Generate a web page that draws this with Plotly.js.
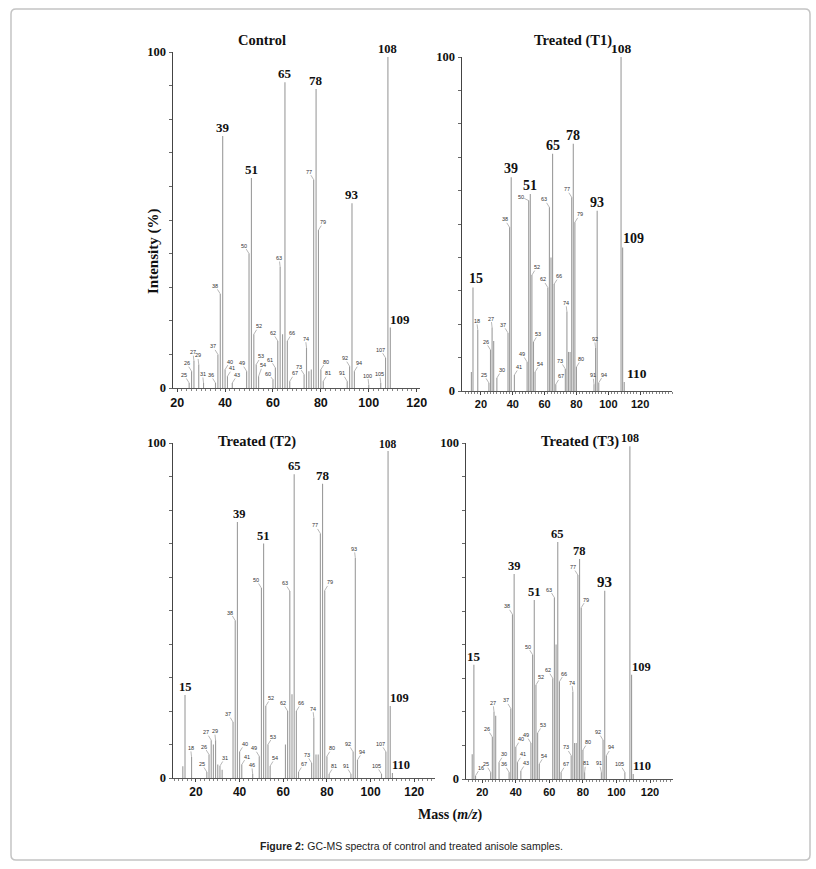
<!DOCTYPE html>
<html>
<head>
<meta charset="utf-8">
<script src="https://cdn.plot.ly/plotly-3.0.1.min.js"></script>
<style>html,body{margin:0;padding:0;background:#fff;}#chart{width:816px;height:869px;}</style>
</head>
<body>
<div id="chart"></div>
<script>
// ---------- DATA (m/z, relative intensity %) ----------
const ctrlMz  = [25,26,27,29,31,36,37,38,39,40,41,43,49,50,51,52,53,54,60,61,62,63,64,65,66,67,73,74,75,76,77,78,79,80,81,91,92,93,94,100,105,107,108,109];
const ctrlInt = [1.5,5,8,7,1.5,1.5,10,28,75,5.5,3.5,1.5,5,40,62.5,16,7,3.5,2.5,6,14,36,16,91,14,2,4,12,5,5.5,62,89,47,5.5,2,2,6.5,55,5,1,1.5,9,98.5,18];
const ctrlBig   = [39,51,65,78,93,108,109];
const ctrlSmall = [25,26,27,29,31,36,37,38,40,41,43,49,50,52,53,54,60,61,62,63,66,67,73,74,77,79,80,81,91,92,94,100,105,107];

const t1Mz  = [14,15,18,25,26,27,28,30,37,38,39,41,49,50,51,52,53,54,62,63,64,65,66,67,73,74,75,76,77,78,79,80,91,92,93,94,108,109,110];
const t1Int = [5.7,31,18.3,2.4,12.3,19,15,3.9,17.4,49,64,4.8,8.7,57,59,34.7,14.7,5.7,31,55,40,71,32,2,6.6,23.7,11.7,11.7,58,74,50.5,7.2,2,12.9,54,2.5,100,43,2.7];
const t1Big   = [15,39,51,65,78,93,108,109,110];
const t1Small = [18,25,26,27,30,37,38,41,49,50,52,53,54,62,63,66,67,73,74,77,79,80,91,92,94];

const t2Mz  = [14,15,18,25,26,27,28,29,30,31,32,37,38,39,40,41,46,49,50,51,52,53,54,61,62,63,64,65,66,67,73,74,75,76,77,78,79,80,81,91,92,93,94,105,107,108,109,110];
const t2Int = [3.5,24.8,6.3,1.8,7,11.3,10,11.3,4,3.6,2.5,16.7,47,76.4,7.8,4,1.2,6.5,56.7,70,21.5,10,3.6,10,20,55.8,25,90.7,20,1.8,4.5,18,7,7,73,87.8,56,6.5,1.2,1.2,7.8,65.7,5.4,1.2,7.8,97.6,21.5,1.5];
const t2Big   = [15,39,51,65,78,108,109,110];
const t2Small = [18,25,26,27,29,31,37,38,40,41,46,49,50,52,53,54,62,63,66,67,73,74,77,79,80,81,91,92,93,94,105,107];

const t3Mz  = [14,15,16,25,26,27,28,30,36,37,38,39,40,41,43,49,50,51,52,53,54,62,63,64,65,66,67,73,74,75,76,77,78,79,80,81,91,92,93,94,105,108,109,110];
const t3Int = [7.4,34,1,2,12.5,20,18.8,5,2,21,49,61,9.5,5,2.4,10.7,37,53.3,28,13.7,4.5,30,54,40,70.5,29,2,7,26,10.7,10.7,60.7,65.5,51,8.6,2,2,11.6,56,7,2,99,31,1.5];
const t3Big   = [15,39,51,65,78,93,108,109,110];
const t3Small = [16,25,26,27,30,36,37,38,40,41,43,49,50,52,53,54,62,63,66,67,73,74,77,79,80,81,91,92,94,105];

const panelTitles = ["Control", "Treated (T1)", "Treated (T2)", "Treated (T3)"];
const xTickVals = [20,40,60,80,100,120];
const yTickVals = [0,10,20,30,40,50,60,70,80,90,100];
const yTickText = ["0","","","","","","","","","","100"];

// ---------- STYLE / LAYOUT ----------
const W = 816, H = 869;
const px = v => v / W;
const py = v => 1 - v / H;
const SERIF = "Liberation Serif, Times New Roman, serif";
const SANS  = "Liberation Sans, Arial, sans-serif";

const panels = [
  {mz: ctrlMz, it: ctrlInt, big: ctrlBig, small: ctrlSmall, x0: 173, x1: 420, yb: 388, yt: 52, range: [18.25, 121.4],
   tickSize: 12.5, bigSize: 13, bigSizes: {108: 12.5}, bigLeft: [109], bigShift: {},
   right: [40,41,43,52,53,54,66,67,79,80,81,94], center: [27,29,31,63,74,100,105],
   custom: {54: [4, -11], 60: [-5, -6]},
   title: [262, 40]},
  {mz: t1Mz, it: t1Int, big: t1Big, small: t1Small, x0: 462, x1: 672, yb: 391, yt: 57, range: [8.1, 140.0],
   tickSize: 11, bigSize: 14, bigSizes: {108: 13.5, 110: 13.5}, bigLeft: [109,110], bigShift: {15: 3, 110: 3},
   right: [30,41,52,53,54,66,67,79,80,94], center: [18,27,74,91,92],
   custom: {50: [-8, -4]},
   title: [573, 40]},
  {mz: t2Mz, it: t2Int, big: t2Big, small: t2Small, x0: 173, x1: 435, yb: 778, yt: 443, range: [9.5, 129.5],
   tickSize: 12, bigSize: 12.5, bigSizes: {108: 11.5, 78: 13}, bigLeft: [109,110], bigShift: {39: 2},
   right: [31,40,41,52,53,54,66,67,79,80,81,94], center: [18,29,46,74,93],
   custom: {},
   title: [257, 441]},
  {mz: t3Mz, it: t3Int, big: t3Big, small: t3Small, x0: 466, x1: 673, yb: 779, yt: 443, range: [10.3, 133.7],
   tickSize: 11, bigSize: 12.5, bigSizes: {93: 15, 15: 13, 108: 12}, bigLeft: [109,110], bigShift: {},
   right: [16,30,40,41,43,52,53,54,66,67,79,80,94], center: [27,74],
   custom: {81: [1, -9], 91: [-2, -9]},
   title: [580, 441]}
];

const data = [];
const annotations = [];
const layout = {
  width: W, height: H,
  margin: {l: 0, r: 0, t: 0, b: 0},
  paper_bgcolor: "#fff", plot_bgcolor: "rgba(0,0,0,0)",
  showlegend: false,
  annotations: annotations,
  shapes: []
};

panels.forEach((p, i) => {
  const sfx = i === 0 ? "" : String(i + 1);
  const xName = "xaxis" + sfx, yName = "yaxis" + sfx;
  const xr = "x" + sfx, yr = "y" + sfx;
  const pxPerUnit = (p.x1 - p.x0) / (p.range[1] - p.range[0]);

  data.push({
    type: "bar", x: p.mz, y: p.it, xaxis: xr, yaxis: yr,
    width: 1.1 / pxPerUnit,
    marker: {color: "#9c9c9c", line: {width: 0}},
    hoverinfo: "skip"
  });

  layout[xName] = {
    domain: [px(p.x0), px(p.x1)], range: p.range, anchor: yr,
    showline: true, linecolor: "#555", linewidth: 1,
    ticks: "outside", ticklen: 3, tickcolor: "#444", tickwidth: 1,
    tickmode: "array", tickvals: xTickVals, ticktext: xTickVals.map(String),
    tickfont: {family: SANS, size: p.tickSize, color: "#111", weight: "bold"},
    minor: {tickmode: "linear", tick0: 0, dtick: 2, ticks: "outside", ticklen: 2, tickcolor: "#666", tickwidth: 0.8},
    showgrid: false, zeroline: false, fixedrange: true
  };
  layout[yName] = {
    domain: [py(p.yb), py(p.yt)], range: [0, 100], anchor: xr,
    showline: true, linecolor: "#444", linewidth: 1.5,
    ticks: "outside", ticklen: 3, tickcolor: "#666", tickwidth: 1,
    tickmode: "array", tickvals: yTickVals, ticktext: yTickText,
    tickfont: {family: SERIF, size: 12.5, color: "#111", weight: "bold"},
    showgrid: false, zeroline: false, fixedrange: true
  };

  // big peak labels
  p.big.forEach(m => {
    const k = p.mz.indexOf(m);
    const left = p.bigLeft.includes(m);
    annotations.push({
      xref: xr, yref: yr, x: m, y: p.it[k], text: String(m), showarrow: false,
      xanchor: left ? "left" : "center", yanchor: "bottom",
      xshift: (p.bigShift[m] || 0) + (left ? -2 : 0), yshift: -1,
      font: {family: SERIF, size: p.bigSizes[m] || p.bigSize, color: "#111", weight: "bold"}
    });
  });
  // small peak labels with leader lines
  p.small.forEach(m => {
    const k = p.mz.indexOf(m);
    let ax = -5, ay = -8;
    if (p.right.includes(m)) { ax = 5; ay = -8; }
    if (p.center.includes(m)) { ax = -1; ay = -9; }
    if (p.custom[m]) { ax = p.custom[m][0]; ay = p.custom[m][1]; }
    annotations.push({
      xref: xr, yref: yr, x: m, y: p.it[k], text: String(m),
      showarrow: true, arrowhead: 0, arrowwidth: 0.6, arrowcolor: "#888", standoff: 0,
      ax: ax, ay: ay, borderpad: 0,
      font: {family: SANS, size: 5.5, color: "#333"}
    });
  });
  // panel title
  annotations.push({
    xref: "paper", yref: "paper", x: px(p.title[0]), y: py(p.title[1]),
    text: panelTitles[i], showarrow: false, xanchor: "center", yanchor: "middle",
    font: {family: SERIF, size: 14.5, color: "#111", weight: "bold"}
  });
});

// axis titles & caption
annotations.push({
  xref: "paper", yref: "paper", x: px(153), y: py(252), textangle: -90,
  text: "Intensity (%)", showarrow: false, xanchor: "center", yanchor: "middle",
  font: {family: SERIF, size: 15, color: "#111", weight: "bold"}
});
annotations.push({
  xref: "paper", yref: "paper", x: px(450), y: py(815),
  text: "Mass (<i>m/z</i>)", showarrow: false, xanchor: "center", yanchor: "middle",
  font: {family: SERIF, size: 14, color: "#111", weight: "bold"}
});
annotations.push({
  xref: "paper", yref: "paper", x: px(411), y: py(846),
  text: "<b>Figure 2:</b> GC-MS spectra of control and treated anisole samples.", showarrow: false,
  xanchor: "center", yanchor: "middle",
  font: {family: SANS, size: 10.5, color: "#222"}
});

// rounded outer frame
(function () {
  const L = 11, T = 9, R = 810, B = 860, r = 5;
  const path = [
    "M", px(L + r), py(T), "L", px(R - r), py(T), "Q", px(R), py(T), px(R), py(T + r),
    "L", px(R), py(B - r), "Q", px(R), py(B), px(R - r), py(B),
    "L", px(L + r), py(B), "Q", px(L), py(B), px(L), py(B - r),
    "L", px(L), py(T + r), "Q", px(L), py(T), px(L + r), py(T), "Z"
  ];
  let s = "";
  for (let i = 0; i < path.length; i++) {
    const v = path[i];
    if (typeof v === "string") s += v + " ";
    else { s += v.toFixed(5) + ((typeof path[i + 1] === "number") ? "," : " "); }
  }
  layout.shapes.push({type: "path", xref: "paper", yref: "paper", path: s.trim(),
    line: {color: "#c4c4c4", width: 1.5}, fillcolor: "rgba(0,0,0,0)"});
})();

Plotly.newPlot("chart", data, layout, {displayModeBar: false, staticPlot: true});
</script>
</body>
</html>
